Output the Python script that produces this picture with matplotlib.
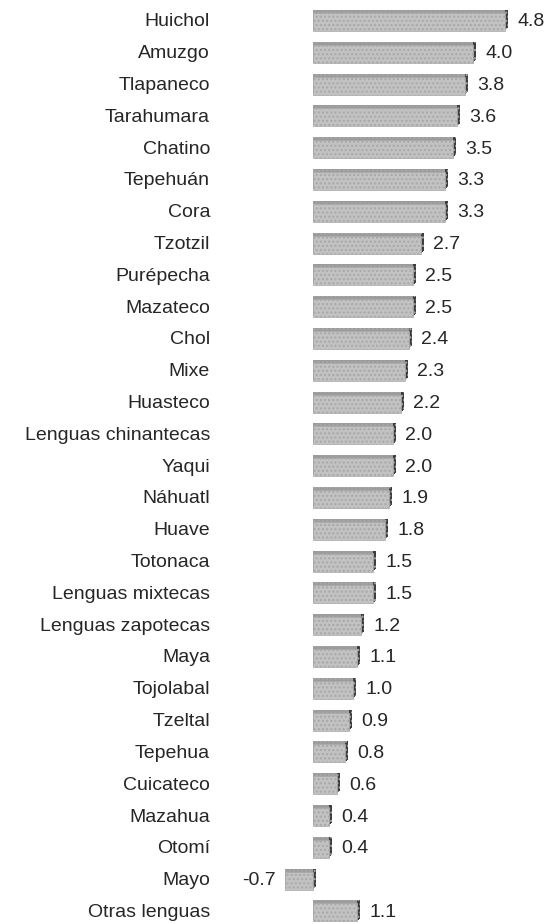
import matplotlib
matplotlib.use("Agg")
import matplotlib.pyplot as plt
import matplotlib.patheffects as pe

categories = ["Huichol", "Amuzgo", "Tlapaneco", "Tarahumara", "Chatino", "Tepehuán",
              "Cora", "Tzotzil", "Purépecha", "Mazateco", "Chol", "Mixe", "Huasteco",
              "Lenguas chinantecas", "Yaqui", "Náhuatl", "Huave", "Totonaca",
              "Lenguas mixtecas", "Lenguas zapotecas", "Maya", "Tojolabal", "Tzeltal",
              "Tepehua", "Cuicateco", "Mazahua", "Otomí", "Mayo", "Otras lenguas"]
values = [4.8, 4.0, 3.8, 3.6, 3.5, 3.3, 3.3, 2.7, 2.5, 2.5, 2.4, 2.3, 2.2, 2.0, 2.0,
          1.9, 1.8, 1.5, 1.5, 1.2, 1.1, 1.0, 0.9, 0.8, 0.6, 0.4, 0.4, -0.7, 1.1]

plt.rcParams['font.family'] = ['Liberation Sans', 'DejaVu Sans']
plt.rcParams['hatch.color'] = "#8e8e8e"

W, H = 545, 924
fig = plt.figure(figsize=(W / 100, H / 100), dpi=100)
ax = fig.add_axes([0, 0, 1, 1])

ppu = 40.0      # pixels per unit
x0px = 313.0    # zero position
row0, drow = 22.0, 31.8
ax.set_xlim(-x0px / ppu, (W - x0px) / ppu)
ax.set_ylim((H - row0) / drow, -row0 / drow)
ax.axis("off")

ypos = list(range(len(categories)))

effects = []
for k in (0.7, 1.4, 2.1):
    effects.append(pe.SimplePatchShadow(offset=(k, k), shadow_rgbFace="#3c3c3c", alpha=1.0))
for k in (0.7, 1.4, 2.1):
    effects.append(pe.SimplePatchShadow(offset=(0, k), shadow_rgbFace="#9c9c9c", alpha=1.0))
effects.append(pe.Normal())

bars = ax.barh(ypos, values, height=0.57, color="#c2c2c2", edgecolor="#a8a8a8",
               linewidth=0.5, hatch="....")
for b in bars:
    b.set_path_effects(effects)

fs = 14
for y, cat, v in zip(ypos, categories, values):
    ax.text(-103 / ppu, y, cat, ha="right", va="center", fontsize=fs, color="#262626")
    if v >= 0:
        ax.text(v + 12 / ppu, y, f"{v:.1f}", ha="left", va="center", fontsize=fs,
                color="#262626")
    else:
        ax.text(v - 9 / ppu, y, f"{v:.1f}", ha="right", va="center", fontsize=fs,
                color="#262626")

fig.savefig("out.png", dpi=100, facecolor="white")
